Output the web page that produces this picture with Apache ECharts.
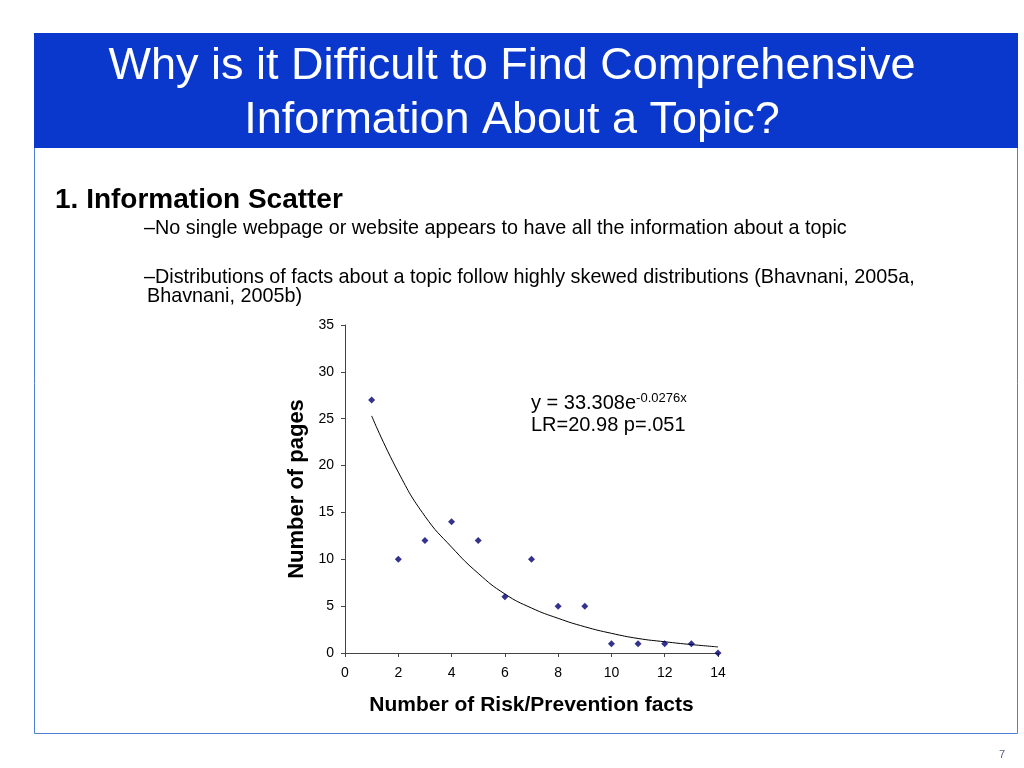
<!DOCTYPE html>
<html><head><meta charset="utf-8">
<script src="https://cdn.jsdelivr.net/npm/echarts@6/dist/echarts.min.js"></script>
<style>html,body{margin:0;padding:0;background:#fff}#c{width:1024px;height:768px}</style>
</head><body><div id="c"></div>
<script>
const factsX = [1,2,3,4,5,6,7,8,9,10,11,12,13,14];
const pagesY = [27,10,12,14,12,6,10,5,5,1,1,1,1,0];
const trendY = [25.3,19.3,14.6,11.3,8.5,6.3,4.8,3.7,2.8,2.1,1.55,1.2,0.9,0.65];
const xTicks = [0,2,4,6,8,10,12,14];
const yTicks = [0,5,10,15,20,25,30,35];

const chart = echarts.init(document.getElementById('c'));
const sans = '"Liberation Sans",Arial,sans-serif';
chart.setOption({
  animation:false,
  backgroundColor:'#fff',
  grid:{left:345,top:325,width:373,height:328,containLabel:false},
  xAxis:{type:'value',min:xTicks[0],max:xTicks[xTicks.length-1],interval:2,
    axisLine:{show:true,onZero:false,lineStyle:{color:'#444',width:1}},
    axisTick:{show:true,inside:false,length:4,lineStyle:{color:'#444'}},
    axisLabel:{color:'#000',fontSize:14,fontFamily:'Liberation Sans',margin:13},
    splitLine:{show:false},
    name:'Number of Risk/Prevention facts',nameLocation:'middle',nameGap:42,
    nameTextStyle:{fontSize:21,fontWeight:'bold',color:'#000',fontFamily:'Liberation Sans'}},
  yAxis:{type:'value',min:yTicks[0],max:yTicks[yTicks.length-1],interval:5,
    axisLine:{show:true,lineStyle:{color:'#444',width:1}},
    axisTick:{show:true,inside:false,length:4,lineStyle:{color:'#444'}},
    axisLabel:{color:'#000',fontSize:14,fontFamily:'Liberation Sans',margin:11},
    splitLine:{show:false},
    name:'Number of pages',nameLocation:'middle',nameGap:37,
    nameTextStyle:{fontSize:22,fontWeight:'bold',color:'#000',fontFamily:'Liberation Sans'}},
  series:[
    {type:'line',data:factsX.map((x,i)=>[x,trendY[i]]),smooth:true,showSymbol:false,
      lineStyle:{color:'#000',width:1},z:1},
    {type:'scatter',data:factsX.map((x,i)=>[x,pagesY[i]]),symbol:'diamond',symbolSize:7,
      itemStyle:{color:'#000070'},z:2}
  ],
  graphic:[
    {type:'rect',shape:{x:34.5,y:33.5,width:983,height:700},style:{fill:'none',stroke:'#4f7fd6',lineWidth:1},z:0},
    {type:'rect',shape:{x:34,y:33,width:984,height:115},style:{fill:'#0a38cc'},z:1},
    {type:'text',x:512,y:67,style:{text:'Why is it Difficult to Find Comprehensive',fill:'#fff',font:'45px '+sans,align:'center',verticalAlign:'middle'},z:2},
    {type:'text',x:512,y:121,style:{text:'Information About a Topic?',fill:'#fff',font:'45px '+sans,align:'center',verticalAlign:'middle'},z:2},
    {type:'text',x:55,y:200,style:{text:'1. Information Scatter',fill:'#000',font:'bold 28px '+sans,verticalAlign:'middle'}},
    {type:'text',x:144,y:229,style:{text:'–No single webpage or website appears to have all the information about a topic',fill:'#000',font:'19.8px '+sans,verticalAlign:'middle'}},
    {type:'text',x:144,y:278,style:{text:'–Distributions of facts about a topic follow highly skewed distributions (Bhavnani, 2005a,',fill:'#000',font:'19.8px '+sans,verticalAlign:'middle'}},
    {type:'text',x:147,y:297,style:{text:'Bhavnani, 2005b)',fill:'#000',font:'19.8px '+sans,verticalAlign:'middle'}},
    {type:'text',x:531,y:403,style:{text:'{a|y = 33.308e}{b|-0.0276x}',verticalAlign:'middle',
      rich:{a:{fontSize:20,fontFamily:'Liberation Sans',color:'#000'},
            b:{fontSize:13,fontFamily:'Liberation Sans',color:'#000',verticalAlign:'top',padding:[0,0,10,0]}}}},
    {type:'text',x:531,y:425,style:{text:'LR=20.98 p=.051',fill:'#000',font:'20px '+sans,verticalAlign:'middle'}},
    {type:'text',x:1002,y:755,style:{text:'7',fill:'#55608a',font:'11px '+sans,align:'center',verticalAlign:'middle'}}
  ]
});
</script></body></html>
